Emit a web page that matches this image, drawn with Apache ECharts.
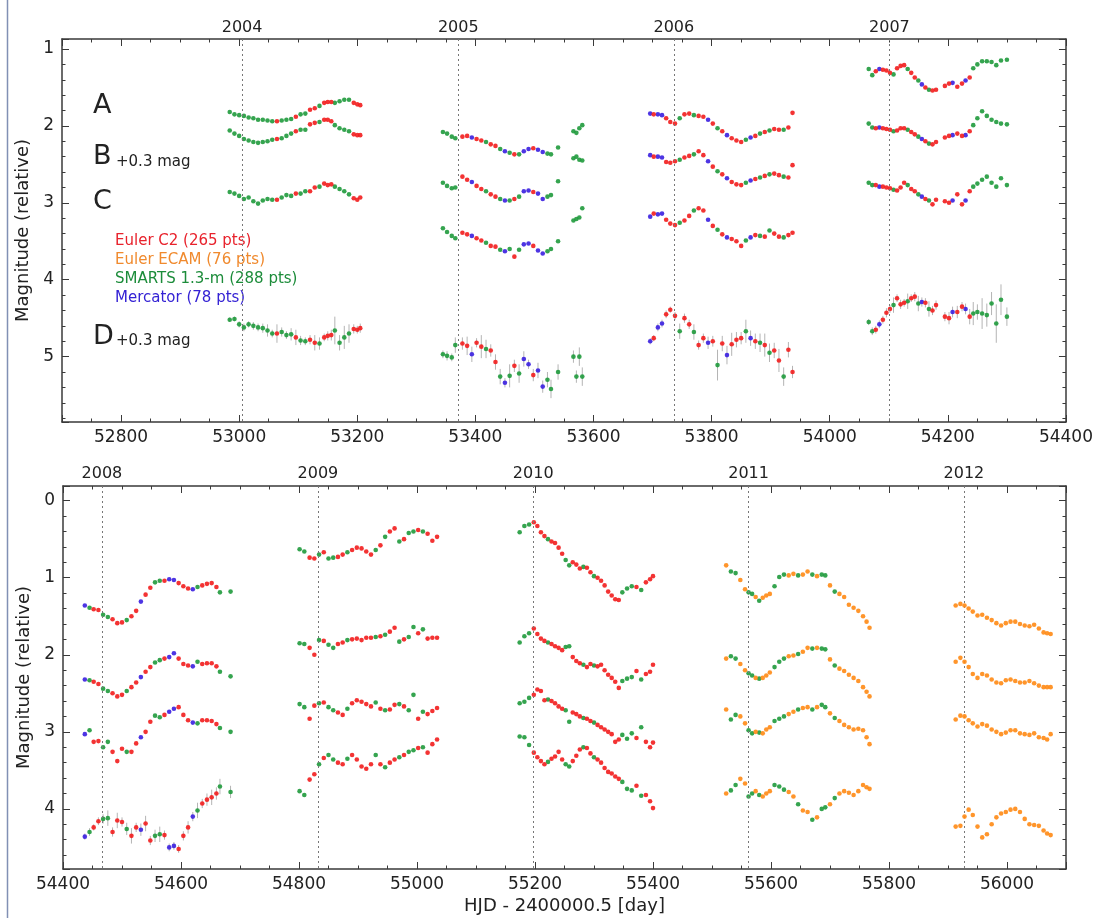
<!DOCTYPE html>
<html><head><meta charset="utf-8">
<script src="https://cdn.jsdelivr.net/npm/echarts@6/dist/echarts.min.js"></script>
<style>html,body{margin:0;padding:0;background:#fff}#c{width:1096px;height:918px}</style>
</head><body><div id="c"></div><script>
// ---------- DATA (HJD - 2400000.5, relative magnitudes as plotted) ----------
const instruments = { R: 'Euler C2', O: 'Euler ECAM', G: 'SMARTS 1.3-m', B: 'Mercator' };
const legendLabels = ['Euler C2 (265 pts)', 'Euler ECAM (76 pts)', 'SMARTS 1.3-m (288 pts)', 'Mercator (78 pts)'];
const yearsTop = [2004, 2005, 2006, 2007];
const yearsTopDay = [53005, 53371, 53736, 54101];
const yearsBottom = [2008, 2009, 2010, 2011, 2012];
const yearsBottomDay = [54466, 54832, 55197, 55562, 55927];

const s2004_day = [52984,52992,53000,53008,53016,53024,53032,53040,53048,53056,53064,53072,53080,53088,53096,53104,53112,53120,53128,53136,53144,53150,53156,53162,53170,53178,53186,53194,53200,53205];
const s2004_inst = "GGGGGGGGGGRGGGRGGRRGRRRGGGGRRR";
const s2004_A = [1.82,1.85,1.86,1.87,1.89,1.90,1.92,1.92,1.93,1.94,1.94,1.93,1.92,1.91,1.88,1.85,1.84,1.79,1.77,1.74,1.70,1.69,1.69,1.70,1.68,1.66,1.66,1.70,1.72,1.73];
const s2004_B = [2.06,2.10,2.13,2.17,2.19,2.21,2.22,2.21,2.20,2.18,2.17,2.16,2.13,2.10,2.07,2.05,2.05,1.98,1.96,1.95,1.92,1.92,1.94,1.99,2.03,2.05,2.07,2.11,2.12,2.12];
const s2004_C = [2.86,2.88,2.91,2.95,2.93,2.98,3.01,2.97,2.95,2.96,2.96,2.93,2.90,2.91,2.88,2.88,2.85,2.85,2.80,2.79,2.75,2.77,2.76,2.79,2.82,2.85,2.89,2.94,2.96,2.93];
const s2004_D = [4.52,4.51,4.58,4.62,4.58,4.60,4.62,4.63,4.66,4.70,4.70,4.68,4.72,4.71,4.75,4.79,4.80,4.78,4.82,4.83,4.75,4.73,4.72,4.66,4.82,4.75,4.70,4.64,4.65,4.63];
const s2004_Derr = [0.03,0.03,0.04,0.05,0.04,0.05,0.05,0.06,0.08,0.05,0.12,0.06,0.05,0.08,0.10,0.06,0.05,0.06,0.10,0.08,0.05,0.06,0.07,0.18,0.10,0.15,0.12,0.06,0.05,0.06];

const s2005_day = [53345,53352,53360,53366,53378,53386,53394,53402,53410,53418,53426,53434,53442,53450,53458,53466,53474,53482,53490,53498,53506,53514,53522,53528,53540,53566,53571,53576,53581];
const s2005_inst = "GGGGRRBRRGRRGBGRGBBRBBGGGGGGG";
const s2005_A = [2.08,2.10,2.14,2.16,2.14,2.13,2.15,2.17,2.19,2.21,2.24,2.26,2.30,2.33,2.35,2.37,2.37,2.33,2.30,2.29,2.31,2.34,2.36,2.37,2.28,2.07,2.09,2.03,1.99];
const s2005_B = [2.74,2.78,2.81,2.80,2.66,2.70,2.73,2.78,2.82,2.85,2.89,2.92,2.95,2.97,2.97,2.95,2.92,2.85,2.84,2.86,2.88,2.95,2.92,2.90,2.72,2.42,2.40,2.44,2.45];
const s2005_C = [3.33,3.38,3.43,3.46,3.39,3.41,3.43,3.46,3.49,3.52,3.56,3.57,3.61,3.63,3.60,3.70,3.61,3.54,3.53,3.56,3.62,3.66,3.63,3.60,3.50,3.23,3.21,3.19,3.07];
const s2005_D = [4.97,4.99,5.01,4.85,4.83,4.86,4.97,4.82,4.87,4.90,4.92,5.07,5.26,5.34,5.25,5.12,5.22,5.03,5.10,5.24,5.18,5.39,5.30,5.42,5.20,5.00,5.26,5.00,5.26];
const s2005_Derr = [0.05,0.06,0.05,0.10,0.08,0.12,0.10,0.06,0.15,0.12,0.08,0.10,0.10,0.06,0.15,0.08,0.12,0.10,0.06,0.08,0.10,0.08,0.10,0.12,0.10,0.08,0.08,0.12,0.12];

const s2006_day = [53696,53702,53709,53716,53723,53730,53738,53746,53754,53762,53770,53778,53786,53794,53802,53810,53818,53826,53834,53842,53850,53858,53866,53874,53882,53890,53898,53906,53914,53922,53930,53937];
const s2006_inst = "BRBBRRRGRRGRRBRGRBRRRGBRGRGRRGRR";
const s2006_A = [1.84,1.85,1.85,1.86,1.90,1.95,1.97,1.90,1.85,1.84,1.86,1.87,1.88,1.92,1.97,2.03,2.07,2.12,2.16,2.19,2.21,2.18,2.15,2.13,2.10,2.08,2.06,2.04,2.05,2.05,2.02,1.83];
const s2006_B = [2.38,2.40,2.40,2.41,2.47,2.48,2.46,2.44,2.41,2.39,2.37,2.33,2.38,2.46,2.53,2.59,2.63,2.68,2.73,2.76,2.77,2.74,2.71,2.69,2.67,2.65,2.63,2.62,2.64,2.66,2.67,2.51];
const s2006_C = [3.18,3.14,3.15,3.14,3.22,3.27,3.29,3.26,3.23,3.17,3.10,3.07,3.10,3.22,3.30,3.35,3.41,3.45,3.47,3.50,3.56,3.49,3.45,3.42,3.43,3.44,3.36,3.40,3.44,3.45,3.42,3.39];
const s2006_D = [4.80,4.76,4.62,4.57,4.45,4.39,4.47,4.67,4.50,4.58,4.68,4.85,4.76,4.82,4.80,5.11,4.83,4.98,4.84,4.78,4.76,4.67,4.76,4.80,4.82,4.85,4.95,4.92,5.05,5.26,4.91,5.20];
const s2006_Derr = [0.04,0.04,0.05,0.05,0.05,0.04,0.05,0.10,0.06,0.06,0.10,0.06,0.06,0.08,0.07,0.20,0.10,0.12,0.15,0.10,0.08,0.15,0.10,0.10,0.12,0.15,0.12,0.10,0.15,0.12,0.10,0.08];

const s2007_day = [54066,54072,54078,54084,54090,54096,54102,54108,54114,54120,54126,54132,54138,54144,54150,54156,54162,54168,54174,54180,54195,54202,54208,54216,54224,54230,54237,54243,54250,54258,54266,54274,54282,54290,54300];
const s2007_inst = "GGRBRRRGRRRGRRGBRGRRRRBRRBRGGGGGGGG";
const s2007_A = [1.26,1.34,1.29,1.26,1.27,1.28,1.31,1.33,1.25,1.22,1.21,1.26,1.31,1.37,1.41,1.46,1.50,1.53,1.54,1.53,1.48,1.45,1.44,1.49,1.45,1.41,1.37,1.25,1.20,1.16,1.16,1.17,1.21,1.15,1.14];
const s2007_B = [1.97,2.02,2.03,2.02,2.03,2.04,2.05,2.07,2.06,2.03,2.03,2.05,2.08,2.11,2.14,2.17,2.20,2.23,2.24,2.21,2.15,2.13,2.12,2.10,2.13,2.12,2.07,1.99,1.90,1.81,1.87,1.92,1.95,1.97,1.98];
const s2007_C = [2.74,2.77,2.77,2.79,2.79,2.80,2.81,2.83,2.84,2.80,2.74,2.77,2.82,2.85,2.89,2.92,2.95,2.97,3.02,2.96,2.98,3.00,2.97,2.89,3.02,2.97,2.85,2.79,2.75,2.70,2.66,2.74,2.79,2.68,2.77];
const s2007_D = [4.55,4.67,4.65,4.58,4.52,4.43,4.38,4.33,4.24,4.32,4.30,4.28,4.24,4.22,4.31,4.29,4.30,4.38,4.40,4.33,4.48,4.50,4.42,4.42,4.35,4.38,4.48,4.44,4.42,4.44,4.46,4.31,4.57,4.26,4.48];
const s2007_Derr = [0.04,0.05,0.05,0.05,0.05,0.06,0.05,0.10,0.05,0.06,0.05,0.10,0.05,0.06,0.10,0.06,0.06,0.10,0.06,0.06,0.06,0.08,0.07,0.08,0.06,0.07,0.10,0.15,0.10,0.20,0.15,0.15,0.25,0.20,0.12];

const s2008_day = [54437,54445,54452,54460,54468,54476,54484,54492,54500,54508,54516,54524,54532,54540,54548,54556,54564,54572,54580,54588,54596,54604,54612,54620,54628,54636,54644,54652,54660,54666,54684];
const s2008_inst = "BGRRGGRRRGRRBRRGGRBBRRRBGRRRRGG";
const s2008_A = [1.36,1.39,1.41,1.42,1.48,1.51,1.54,1.59,1.58,1.55,1.50,1.43,1.31,1.22,1.13,1.06,1.04,1.04,1.02,1.03,1.07,1.11,1.14,1.15,1.12,1.10,1.08,1.07,1.12,1.19,1.18];
const s2008_B = [2.32,2.33,2.35,2.38,2.44,2.47,2.50,2.54,2.52,2.47,2.42,2.36,2.29,2.22,2.16,2.10,2.07,2.05,2.03,1.98,2.05,2.12,2.14,2.15,2.09,2.12,2.11,2.11,2.15,2.22,2.28];
const s2008_C = [3.03,2.98,3.13,3.12,3.20,3.13,3.26,3.38,3.22,3.26,3.26,3.15,3.07,3.00,2.87,2.79,2.81,2.78,2.74,2.70,2.68,2.78,2.85,2.88,2.89,2.85,2.85,2.86,2.90,2.95,3.00];
const s2008_D = [4.36,4.30,4.24,4.16,4.13,4.12,4.30,4.15,4.17,4.26,4.35,4.24,4.27,4.19,4.41,4.35,4.33,4.34,4.50,4.48,4.52,4.35,4.24,4.10,4.02,3.93,3.88,3.85,3.80,3.71,3.78];
const s2008_Derr = [0.04,0.05,0.04,0.05,0.06,0.10,0.06,0.10,0.06,0.08,0.10,0.06,0.08,0.10,0.06,0.08,0.10,0.06,0.05,0.05,0.05,0.06,0.08,0.06,0.10,0.06,0.08,0.10,0.08,0.10,0.08];

const s2009_day = [54801,54809,54818,54826,54834,54842,54850,54858,54866,54874,54882,54890,54898,54906,54914,54922,54930,54938,54946,54954,54962,54970,54978,54986,54994,55002,55010,55018,55026,55034];
const s2009_inst = "GGRRGRGGRRGRRRRRGRGRRGRGGRGRRR";
const s2009_A = [0.63,0.66,0.74,0.75,0.70,0.67,0.75,0.74,0.73,0.70,0.67,0.64,0.61,0.62,0.66,0.70,0.64,0.58,0.47,0.40,0.36,0.53,0.50,0.42,0.40,0.38,0.40,0.43,0.52,0.47];
const s2009_B = [1.85,1.86,1.91,2.00,1.81,1.82,1.87,1.91,1.86,1.84,1.81,1.80,1.79,1.81,1.78,1.78,1.77,1.76,1.74,1.70,1.65,1.83,1.80,1.77,1.64,1.72,1.67,1.79,1.78,1.78];
const s2009_C = [2.64,2.68,2.83,2.66,2.63,2.62,2.68,2.72,2.75,2.78,2.70,2.63,2.59,2.61,2.64,2.67,2.62,2.70,2.72,2.71,2.65,2.64,2.67,2.72,2.52,2.83,2.74,2.77,2.73,2.69];
const s2009_D = [3.77,3.82,3.62,3.55,3.42,3.34,3.30,3.36,3.40,3.42,3.35,3.30,3.36,3.45,3.48,3.42,3.30,3.42,3.46,3.40,3.36,3.33,3.30,3.26,3.24,3.21,3.20,3.27,3.16,3.10];

const s2010_day = [55174,55182,55190,55198,55204,55210,55216,55222,55228,55234,55240,55246,55252,55258,55264,55270,55276,55282,55288,55294,55300,55306,55312,55318,55324,55330,55336,55342,55348,55356,55364,55372,55380,55388,55395,55400];
const s2010_inst = "GGGRRRRGRRRRGGRRRGRRGRRRRRRRGGGRGRRR";
const s2010_A = [0.41,0.33,0.31,0.28,0.33,0.41,0.46,0.50,0.53,0.55,0.61,0.69,0.77,0.84,0.80,0.83,0.88,0.86,0.87,0.93,0.98,1.00,1.04,1.10,1.18,1.23,1.28,1.29,1.19,1.14,1.11,1.12,1.16,1.06,1.02,0.98];
const s2010_B = [1.84,1.76,1.72,1.66,1.73,1.79,1.82,1.84,1.86,1.89,1.91,1.94,1.90,1.89,2.03,2.08,2.11,2.13,2.16,2.12,2.14,2.15,2.13,2.20,2.26,2.30,2.35,2.43,2.34,2.31,2.29,2.21,2.32,2.25,2.22,2.13];
const s2010_C = [2.63,2.61,2.56,2.52,2.45,2.47,2.59,2.58,2.60,2.63,2.67,2.70,2.72,2.87,2.75,2.77,2.80,2.82,2.83,2.86,2.88,2.91,2.94,2.97,3.00,3.03,3.13,3.10,3.04,3.09,3.02,3.08,2.94,3.13,3.20,3.14];
const s2010_D = [3.06,3.07,3.17,3.27,3.33,3.38,3.42,3.39,3.35,3.32,3.26,3.36,3.42,3.45,3.38,3.31,3.23,3.20,3.21,3.28,3.33,3.36,3.40,3.47,3.52,3.54,3.58,3.61,3.65,3.74,3.76,3.70,3.83,3.82,3.90,3.99];

const s2011_day = [55524,55532,55540,55548,55556,55562,55568,55574,55580,55586,55592,55598,55606,55614,55622,55630,55638,55646,55654,55662,55670,55678,55686,55692,55700,55708,55716,55724,55732,55740,55748,55756,55762,55767];
const s2011_inst = "OGGOOGGOGOOOGGGOOGOOGOGGOGOOOOOOOO";
const s2011_A = [0.84,0.92,0.94,1.03,1.15,1.19,1.21,1.25,1.30,1.26,1.23,1.21,1.11,0.99,0.96,0.97,0.95,0.97,0.96,0.92,0.96,0.98,0.96,0.97,1.10,1.18,1.21,1.25,1.35,1.39,1.43,1.50,1.57,1.65];
const s2011_B = [2.05,2.02,2.05,2.12,2.20,2.24,2.27,2.30,2.31,2.30,2.27,2.23,2.16,2.09,2.05,2.02,2.01,1.99,1.96,1.91,1.92,1.91,1.92,1.93,2.06,2.14,2.18,2.21,2.26,2.30,2.34,2.42,2.48,2.54];
const s2011_C = [2.71,2.84,2.78,2.80,2.89,2.98,3.02,3.00,3.01,3.02,2.97,2.94,2.86,2.83,2.80,2.77,2.74,2.71,2.69,2.68,2.71,2.68,2.65,2.68,2.76,2.82,2.86,2.91,2.94,2.97,2.96,2.98,3.07,3.16];
const s2011_D = [3.80,3.76,3.69,3.61,3.67,3.84,3.80,3.77,3.82,3.84,3.80,3.77,3.69,3.71,3.75,3.78,3.84,3.94,4.02,4.04,4.14,4.11,4.00,3.98,3.94,3.86,3.80,3.77,3.79,3.82,3.77,3.69,3.72,3.74];

const s2012_day = [55913,55921,55928,55935,55942,55950,55958,55966,55974,55982,55990,55998,56006,56014,56022,56030,56038,56046,56054,56062,56068,56074];
const s2012_inst = "OOOOOOOOOOOOOOOOOOOOOO";
const s2012_A = [1.36,1.34,1.36,1.40,1.44,1.49,1.48,1.52,1.55,1.59,1.62,1.59,1.57,1.57,1.60,1.62,1.63,1.61,1.66,1.71,1.72,1.73];
const s2012_B = [2.09,2.04,2.09,2.16,2.25,2.30,2.25,2.27,2.32,2.36,2.37,2.33,2.32,2.34,2.36,2.36,2.34,2.37,2.40,2.42,2.42,2.42];
const s2012_C = [2.84,2.79,2.80,2.85,2.89,2.93,2.90,2.92,2.97,3.00,3.03,3.01,2.98,2.98,3.02,3.03,3.04,3.02,3.07,3.08,3.10,3.03];
const s2012_D = [4.23,4.22,4.10,4.01,4.08,4.23,4.37,4.33,4.20,4.11,4.06,4.04,4.01,4.00,4.04,4.13,4.20,4.21,4.22,4.28,4.32,4.34];

// ---------- BUILD ----------
const seasons = [
  {panel:0, day:s2004_day, inst:s2004_inst, A:s2004_A, B:s2004_B, C:s2004_C, D:s2004_D, Derr:s2004_Derr},
  {panel:0, day:s2005_day, inst:s2005_inst, A:s2005_A, B:s2005_B, C:s2005_C, D:s2005_D, Derr:s2005_Derr},
  {panel:0, day:s2006_day, inst:s2006_inst, A:s2006_A, B:s2006_B, C:s2006_C, D:s2006_D, Derr:s2006_Derr},
  {panel:0, day:s2007_day, inst:s2007_inst, A:s2007_A, B:s2007_B, C:s2007_C, D:s2007_D, Derr:s2007_Derr},
  {panel:1, day:s2008_day, inst:s2008_inst, A:s2008_A, B:s2008_B, C:s2008_C, D:s2008_D, Derr:s2008_Derr},
  {panel:1, day:s2009_day, inst:s2009_inst, A:s2009_A, B:s2009_B, C:s2009_C, D:s2009_D},
  {panel:1, day:s2010_day, inst:s2010_inst, A:s2010_A, B:s2010_B, C:s2010_C, D:s2010_D},
  {panel:1, day:s2011_day, inst:s2011_inst, A:s2011_A, B:s2011_B, C:s2011_C, D:s2011_D},
  {panel:1, day:s2012_day, inst:s2012_inst, A:s2012_A, B:s2012_B, C:s2012_C, D:s2012_D}
];
const instColor = { R:'#f21d1d', O:'#ff8a14', G:'#1f9a3c', B:'#3a1fe0' };
const drawOrder = ['G','B','R','O'];
const FONT = 'DejaVu Sans';
const AX = '#3a3a3a';

const pts = [{},{}]; const errs = [[],[]];
drawOrder.forEach(k => { pts[0][k] = []; pts[1][k] = []; });
seasons.forEach(s => {
  s.day.forEach((d, i) => {
    const k = s.inst[i];
    ['A','B','C','D'].forEach(img => pts[s.panel][k].push([d, s[img][i]]));
    if (s.Derr) errs[s.panel].push([d, s.D[i] - s.Derr[i], s.D[i] + s.Derr[i]]);
  });
});

const plain = v => String(v);
function xAx(grid, min, max, pos, labels, extra) {
  return Object.assign({
    type:'value', gridIndex:grid, min:min, max:max, splitNumber:8, position:pos,
    axisLine:{show:true, onZero:false, lineStyle:{color:AX, width:1.5}},
    axisTick:{show:true, inside:true, length:7, lineStyle:{color:AX, width:1}},
    minorTick:{show:true, splitNumber:4, length:3.5, lineStyle:{color:AX, width:1}},
    splitLine:{show:false}, minorSplitLine:{show:false},
    axisLabel:{show:labels, fontFamily:FONT, fontSize:17, color:'#222', margin:7, formatter:plain}
  }, extra || {});
}
function yAx(grid, min, max, pos, labels, extra) {
  return Object.assign({
    type:'value', gridIndex:grid, min:min, max:max, inverse:true, splitNumber:5, position:pos,
    axisLine:{show:true, onZero:false, lineStyle:{color:AX, width:1.5}},
    axisTick:{show:true, inside:true, length:7, lineStyle:{color:AX, width:1}},
    minorTick:{show:true, splitNumber:5, length:3.5, lineStyle:{color:AX, width:1}},
    splitLine:{show:false}, minorSplitLine:{show:false},
    axisLabel:{show:labels, fontFamily:FONT, fontSize:17, color:'#222', margin:8, showMinLabel:false, showMaxLabel:false, formatter:plain}
  }, extra || {});
}
const yName = {name:'Magnitude (relative)', nameLocation:'middle', nameGap:27,
  nameTextStyle:{fontFamily:FONT, fontSize:18, color:'#222'}};

const errSeries = (p) => ({
  type:'custom', xAxisIndex:p*2, yAxisIndex:p*2, silent:true, z:1,
  data: errs[p], encode:{x:0, y:[1,2]},
  renderItem:(params, api) => {
    const a = api.coord([api.value(0), api.value(1)]);
    const b = api.coord([api.value(0), api.value(2)]);
    return {type:'line', shape:{x1:a[0], y1:a[1], x2:b[0], y2:b[1]}, style:{stroke:'#b4b4b4', lineWidth:1}};
  }
});
const yearLine = (days) => ({
  symbol:'none', silent:true, label:{show:false},
  lineStyle:{type:[2,3], color:'#777', width:1},
  data: days.map(d => ({xAxis:d}))
});

const series = [errSeries(0), errSeries(1)];
[0,1].forEach(p => {
  drawOrder.forEach((k, j) => {
    const s = {
      type:'scatter', name:instruments[k], xAxisIndex:p*2, yAxisIndex:p*2, z:2+j,
      symbol:'circle', symbolSize:4.6, data:pts[p][k],
      itemStyle:{color:instColor[k], opacity:0.9}
    };
    if (j === 0) s.markLine = yearLine(p === 0 ? yearsTopDay : yearsBottomDay);
    series.push(s);
  });
});

const chart = echarts.init(document.getElementById('c'), null, {renderer:'canvas'});
const option = {
  backgroundColor:'#fff',
  animation:false,
  grid:[
    {left:62, top:39, width:1004, height:383},
    {left:63, top:486, width:1003, height:383}
  ],
  xAxis:[
    xAx(0, 52700, 54400, 'bottom', true, {axisLabel:{show:true, fontFamily:FONT, fontSize:17, color:'#222', margin:7, showMinLabel:false, formatter:plain}}),
    xAx(0, 52700, 54400, 'top', false),
    xAx(1, 54400, 56100, 'bottom', true, {axisLabel:{show:true, fontFamily:FONT, fontSize:17, color:'#222', margin:7, showMaxLabel:false, formatter:plain},
      name:'HJD - 2400000.5 [day]', nameLocation:'middle', nameGap:28, nameTextStyle:{fontFamily:FONT, fontSize:18, color:'#222'}}),
    xAx(1, 54400, 56100, 'top', false)
  ],
  yAxis:[
    yAx(0, 0.87, 5.85, 'left', true, yName),
    yAx(0, 0.87, 5.85, 'right', false),
    yAx(1, -0.19, 4.78, 'left', true, yName),
    yAx(1, -0.19, 4.78, 'right', false)
  ],
  series: series
};
chart.setOption(option);

// annotations
const txt = (x, y, s, size, color, align) => ({type:'text', silent:true, x:x, y:y,
  style:{text:s, fontFamily:FONT, fontSize:size, fill:color || '#222', align:align || 'left', verticalAlign:'middle'}});
const gfx = [
  {type:'line', silent:true, shape:{x1:7.5, y1:0, x2:7.5, y2:918}, style:{stroke:'#8190b4', lineWidth:1.5}},
  txt(93, 106, 'A', 27), txt(93, 157, 'B', 27), txt(116, 162, '+0.3 mag', 15),
  txt(93, 202, 'C', 27), txt(93, 337, 'D', 27), txt(116, 341, '+0.3 mag', 15),
  txt(115, 241, legendLabels[0], 15, '#e8222c'), txt(115, 260, legendLabels[1], 15, '#f08a2e'),
  txt(115, 279, legendLabels[2], 15, '#1c8c3a'), txt(115, 298, legendLabels[3], 15, '#3422d4')
];
yearsTop.forEach((y, i) => {
  const px = chart.convertToPixel({xAxisIndex:0}, yearsTopDay[i]);
  gfx.push(txt(px, 28, String(y), 16, '#222', 'center'));
});
yearsBottom.forEach((y, i) => {
  const px = chart.convertToPixel({xAxisIndex:2}, yearsBottomDay[i]);
  gfx.push(txt(px, 474, String(y), 16, '#222', 'center'));
});
chart.setOption({graphic:{elements:gfx}});
</script></body></html>
